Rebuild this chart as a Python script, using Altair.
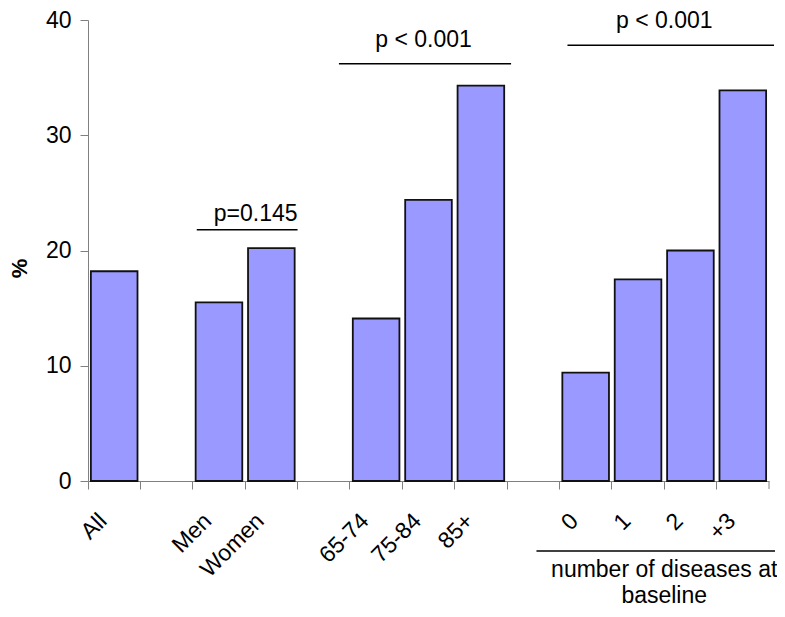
import altair as alt
import pandas as pd

# ---- data ----
categories = ["All", " ", "Men", "Women", "  ", "65-74", "75-84", "85+", "   ", "0", "1", "2", "+3"]
values = [18.2, None, 15.5, 20.2, None, 14.1, 24.4, 34.3, None, 9.4, 17.5, 20.0, 33.9]
y_ticks = [0, 10, 20, 30, 40]

p_labels = ["p=0.145", "p < 0.001", "p < 0.001"]
p_start = ["Men", "65-74", "0"]
p_end = ["Women", "85+", "+3"]
p_line_level = [21.8, 36.2, 37.8]
p_text_level = [22.6, 37.7, 39.3]
group_label = "number of diseases at\nbaseline"

FONT = "Liberation Sans"
GRAY = "#808080"
H = 461

bars_df = pd.DataFrame({"category": categories, "value": values}).dropna()

xscale = alt.Scale(domain=categories, paddingInner=0, paddingOuter=0)
yscale = alt.Scale(domain=[0, 40], nice=False)

x_axis = alt.Axis(
    title=None, bandPosition=0, labelOffset=-11, labelAngle=315,
    labelAlign="right", labelBaseline="middle", labelPadding=28,
    tickSize=8, domainColor=GRAY, tickColor=GRAY, labelFontSize=23,
    labelFont=FONT, labelColor="black", labelOverlap=False, labelBound=False,
    grid=False,
)
y_axis = alt.Axis(
    values=y_ticks, title="%", titleFontWeight="bold", titleFontSize=22,
    titleFont=FONT, titleAngle=270, titleX=-69, titleY=248, titleAlign="center",
    titleBaseline="middle", labelFontSize=23, labelFont=FONT, labelColor="black",
    tickSize=8, labelPadding=9, domainColor=GRAY, tickColor=GRAY, grid=False,
)

bars = alt.Chart(bars_df).mark_bar(
    fill="#9999ff", stroke="#111111", strokeWidth=1.8, width={"band": 0.89}
).encode(
    x=alt.X("category:N", scale=xscale, axis=x_axis, sort=categories),
    y=alt.Y("value:Q", scale=yscale, axis=y_axis),
)

end_tick = alt.Chart(pd.DataFrame({"category": [categories[-1]]})).mark_rule(
    color=GRAY, strokeWidth=1
).encode(
    x=alt.X("category:N", bandPosition=1, scale=xscale, sort=categories),
    y=alt.value(H), y2=alt.value(H + 8),
)

layers = [bars, end_tick]

ann = pd.DataFrame({
    "start": p_start, "end": p_end, "line": p_line_level,
    "ty": p_text_level, "label": p_labels,
})

line_offsets = [(4, 0), (-11, 4), (8, 5)]
for i, (xo, x2o) in enumerate(line_offsets):
    row = ann.iloc[[i]]
    layers.append(
        alt.Chart(row).mark_rule(color="black", strokeWidth=1.5, xOffset=xo, x2Offset=x2o).encode(
            x=alt.X("start:N", bandPosition=0, scale=xscale, sort=categories),
            x2=alt.X2("end", bandPosition=1),
            y=alt.Y("line:Q", scale=yscale),
        )
    )

text_specs = [(1.0, "right", 0), (0.5, "center", -5), (0.0, "center", 0)]
text_anchor_cat = ["Women", "75-84", "2"]
for i, (bp, align, dx) in enumerate(text_specs):
    row = ann.iloc[[i]].assign(anchor=text_anchor_cat[i])
    layers.append(
        alt.Chart(row).mark_text(
            font=FONT, fontSize=23, color="black", align=align,
            baseline="alphabetic", dx=dx,
        ).encode(
            x=alt.X("anchor:N", bandPosition=bp, scale=xscale, sort=categories),
            y=alt.Y("ty:Q", scale=yscale),
            text="label:N",
        )
    )

grp = pd.DataFrame({"start": ["0"], "end": ["+3"], "anchor": ["2"], "label": [group_label]})
layers.append(
    alt.Chart(grp).mark_rule(color="black", strokeWidth=1.5, xOffset=-23, x2Offset=6).encode(
        x=alt.X("start:N", bandPosition=0, scale=xscale, sort=categories),
        x2=alt.X2("end", bandPosition=1),
        y=alt.value(H + 70),
    )
)
layers.append(
    alt.Chart(grp).mark_text(
        font=FONT, fontSize=23, color="black", align="center",
        baseline="alphabetic", lineBreak="\n", lineHeight=26,
    ).encode(
        x=alt.X("anchor:N", bandPosition=0, scale=xscale, sort=categories),
        y=alt.value(H + 96),
        text="label:N",
    )
)

chart = alt.layer(*layers).properties(
    width=681, height=H,
    autosize=alt.AutoSizeParams(type="none"),
    padding={"left": 80, "top": 12, "right": 8, "bottom": 128},
    background="white",
).configure_view(stroke=None)

chart.save("out.html", embed_options={"renderer": "svg", "actions": False})
